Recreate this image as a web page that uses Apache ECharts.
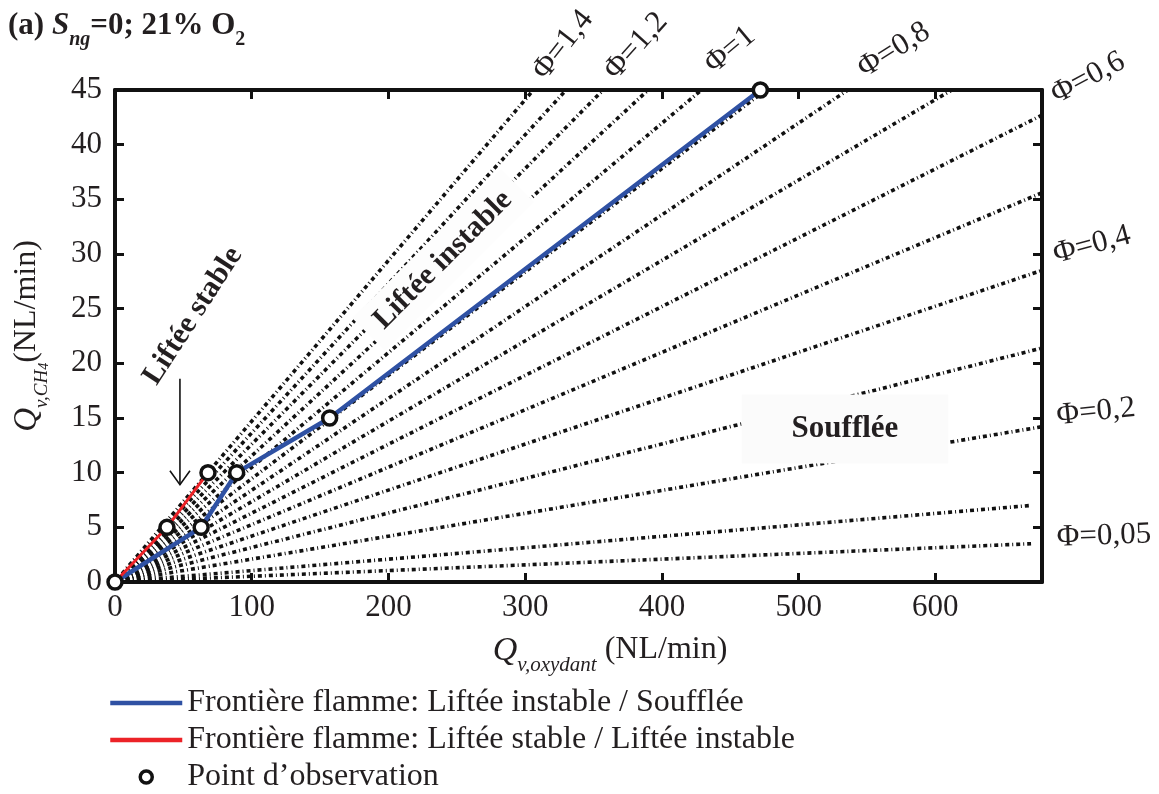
<!DOCTYPE html>
<html><head><meta charset="utf-8">
<script src="https://cdn.jsdelivr.net/npm/echarts@6/dist/echarts.min.js"></script>
<style>html,body{margin:0;padding:0;background:#fff}#c{width:1159px;height:794px}</style>
</head><body><div id="c"></div>
<script>
// ---- data ----
const legendNames = [
  'Frontière flamme: Liftée instable / Soufflée',
  'Frontière flamme: Liftée stable / Liftée instable',
  'Point d\u2019observation'
];
const blueX = [0, 63, 89, 157, 472];
const blueY = [0, 5, 10, 15, 45];
const redX = [0, 38, 68];
const redY = [0, 5, 10];
const obsX = [0, 38, 63, 68, 89, 157, 472];
const obsY = [0, 5, 5, 10, 10, 15, 45];
// equivalence-ratio lines: end points read at the plot border
const phiValues = [0.05, 0.1, 0.2, 0.3, 0.4, 0.5, 0.6, 0.7, 0.8, 0.9, 1.0, 1.1, 1.2, 1.3, 1.4];
const phiEndX = [670, 670, 678, 678, 678, 678, 678, 612, 536, 476, 429, 390, 357, 330, 306];
const phiEndY = [3.5, 7.0, 14.2, 21.4, 28.5, 35.6, 42.7, 45, 45, 45, 45, 45, 45, 45, 45];
const phiLabels = ['\u03A6=1,4', '\u03A6=1,2', '\u03A6=1', '\u03A6=0,8', '\u03A6=0,6', '\u03A6=0,4', '\u03A6=0,2', '\u03A6=0,05'];
const arrowX = [47.5, 47.5];
const arrowY = [18.6, 8.9];

// ---- chart ----
const FONT = '"Liberation Serif", "Times New Roman", serif';
const TXT = '#231f20';
const BLUE = '#2f51a3';
const RED = '#ec2227';
const chart = echarts.init(document.getElementById('c'), null, {renderer: 'canvas'});

const series = [];
phiValues.forEach((p, i) => {
  series.push({
    type: 'line', name: 'phi' + p, silent: true, symbol: 'none', z: 2,
    data: [[0, 0], [phiEndX[i], phiEndY[i]]],
    lineStyle: {color: '#111', width: 3.6, type: [4, 3, 1, 3], cap: 'butt'}
  });
});
series.push({
  type: 'line', name: legendNames[0], symbol: 'none', z: 3,
  data: blueX.map((x, i) => [x, blueY[i]]),
  lineStyle: {color: BLUE, width: 4.5}, itemStyle: {color: BLUE}
});
series.push({
  type: 'line', name: legendNames[1], symbol: 'none', z: 4,
  data: redX.map((x, i) => [x, redY[i]]),
  lineStyle: {color: RED, width: 3}, itemStyle: {color: RED}
});
series.push({
  type: 'scatter', name: legendNames[2], symbol: 'circle', symbolSize: 14, z: 5,
  symbolKeepAspect: true,
  data: obsX.map((x, i) => [x, obsY[i]]),
  itemStyle: {color: '#fff', borderColor: '#111', borderWidth: 3.5, opacity: 1}
});

function axisCommon(showLabels) {
  return {
    type: 'value',
    axisLine: {show: true, onZero: false, lineStyle: {color: '#111', width: 4}},
    axisTick: {show: true, inside: true, length: 9, lineStyle: {color: '#111', width: 3}},
    axisLabel: {show: showLabels, fontFamily: FONT, fontSize: 31, color: TXT, margin: 10},
    splitLine: {show: false}
  };
}
const xb = axisCommon(true); xb.min = 0; xb.max = 678; xb.interval = 100; xb.position = 'bottom';
xb.axisLabel.showMaxLabel = false;
const xt = axisCommon(false); xt.min = 0; xt.max = 678; xt.interval = 100; xt.position = 'top';
const yl = axisCommon(true); yl.min = 0; yl.max = 45; yl.interval = 5; yl.position = 'left';
yl.axisLabel.margin = 13;
const yr = axisCommon(false); yr.min = 0; yr.max = 45; yr.interval = 5; yr.position = 'right';

chart.setOption({
  animation: false,
  backgroundColor: '#fff',
  grid: {left: 115, right: 117, top: 90, bottom: 212, containLabel: false},
  xAxis: [xb, xt],
  yAxis: [yl, yr],
  legend: {
    data: [
      {name: legendNames[0], itemStyle: {opacity: 0}, lineStyle: {width: 4.5}},
      {name: legendNames[1], itemStyle: {opacity: 0}, lineStyle: {width: 4.5}},
      {name: legendNames[2], itemStyle: {color: '#fff', borderColor: '#111', borderWidth: 3.5}}
    ],
    orient: 'vertical', left: 108, top: 687, height: 112, padding: 0,
    itemWidth: 72, itemHeight: 12, itemGap: 5, selectedMode: false,
    textStyle: {fontFamily: FONT, fontSize: 32, color: TXT}
  },
  series: series
});

// ---- annotations ----
const P = (x, y) => chart.convertToPixel({gridIndex: 0}, [x, y]);
const a0 = P(arrowX[0], arrowY[0]);
const a1 = P(arrowX[1], arrowY[1]);
const deg = d => d * Math.PI / 180;

const phiPos = [[563, 45, 52], [636, 46, 48], [730, 50, 40], [894, 50, 32], [1088, 78, 28], [1092, 245, 15], [1096, 412, 6], [1104, 536, 2]];
const graphics = [];
phiLabels.forEach((t, i) => {
  graphics.push({
    type: 'text', x: phiPos[i][0], y: phiPos[i][1], rotation: deg(phiPos[i][2]), z: 20,
    style: {text: t, fontFamily: FONT, fontSize: 31, fill: TXT, align: 'center', verticalAlign: 'middle'}
  });
});
// title
graphics.push({
  type: 'text', x: 8, y: 30, z: 20,
  style: {
    text: '{n|(a) }{i|S}{is|ng}{n|=0; 21% O}{s|2}',
    align: 'left', verticalAlign: 'middle',
    rich: {
      n: {fontFamily: FONT, fontSize: 31, fontWeight: 'bold', fill: TXT, lineHeight: 40, verticalAlign: 'top'},
      i: {fontFamily: FONT, fontSize: 31, fontWeight: 'bold', fontStyle: 'italic', fill: TXT, lineHeight: 40, verticalAlign: 'top'},
      is: {fontFamily: FONT, fontSize: 20, fontWeight: 'bold', fontStyle: 'italic', fill: TXT, lineHeight: 16, verticalAlign: 'bottom'},
      s: {fontFamily: FONT, fontSize: 20, fontWeight: 'bold', fill: TXT, lineHeight: 16, verticalAlign: 'bottom'}
    }
  }
});
// y axis name
graphics.push({
  type: 'text', x: 31, y: 336, rotation: deg(90), z: 20,
  style: {
    text: '{q|Q}{sub|v,CH}{sub2|4}{n|(NL/min)}',
    align: 'center', verticalAlign: 'middle',
    rich: {
      q: {fontFamily: FONT, fontSize: 33, fontStyle: 'italic', fill: TXT, lineHeight: 40, verticalAlign: 'top'},
      sub: {fontFamily: FONT, fontSize: 19, fontStyle: 'italic', fill: TXT, lineHeight: 20, verticalAlign: 'bottom'},
      sub2: {fontFamily: FONT, fontSize: 14, fontStyle: 'italic', fill: TXT, lineHeight: 4, verticalAlign: 'bottom'},
      n: {fontFamily: FONT, fontSize: 32, fill: TXT, lineHeight: 40, verticalAlign: 'top'}
    }
  }
});
// x axis name
graphics.push({
  type: 'text', x: 610, y: 655, z: 20,
  style: {
    text: '{q|Q}{sub|v,oxydant}{n| (NL/min)}',
    align: 'center', verticalAlign: 'middle',
    rich: {
      q: {fontFamily: FONT, fontSize: 34, fontStyle: 'italic', fill: TXT, lineHeight: 42, verticalAlign: 'top'},
      sub: {fontFamily: FONT, fontSize: 21, fontStyle: 'italic', fill: TXT, lineHeight: 20, verticalAlign: 'bottom'},
      n: {fontFamily: FONT, fontSize: 32, fill: TXT, lineHeight: 42, verticalAlign: 'top'}
    }
  }
});
// region labels
graphics.push({
  type: 'text', x: 193, y: 316, rotation: deg(57), z: 20,
  style: {text: 'Liftée stable', fontFamily: FONT, fontSize: 30, fontWeight: 'bold', fill: TXT, align: 'center', verticalAlign: 'middle'}
});
graphics.push({
  type: 'text', x: 443, y: 260, rotation: deg(45), z: 20,
  style: {text: 'Liftée instable', fontFamily: FONT, fontSize: 30, fontWeight: 'bold', fill: TXT, align: 'center', verticalAlign: 'middle',
    backgroundColor: '#fdfdfd', padding: [8, 14]}
});
graphics.push({
  type: 'text', x: 845, y: 429, z: 20,
  style: {text: 'Soufflée', fontFamily: FONT, fontSize: 31, fontWeight: 'bold', fill: TXT, align: 'center', verticalAlign: 'middle',
    backgroundColor: '#fbfbfb', padding: [19, 50]}
});
// arrow
graphics.push({
  type: 'polyline', z: 20, shape: {points: [a0, a1]}, style: {stroke: '#111', lineWidth: 1.6, fill: null}
});
graphics.push({
  type: 'polyline', z: 20, shape: {points: [[a1[0] - 10, a1[1] - 14], a1, [a1[0] + 10, a1[1] - 14]]},
  style: {stroke: '#111', lineWidth: 1.6, fill: null}
});
chart.setOption({graphic: {elements: graphics}});
</script>
</body></html>
